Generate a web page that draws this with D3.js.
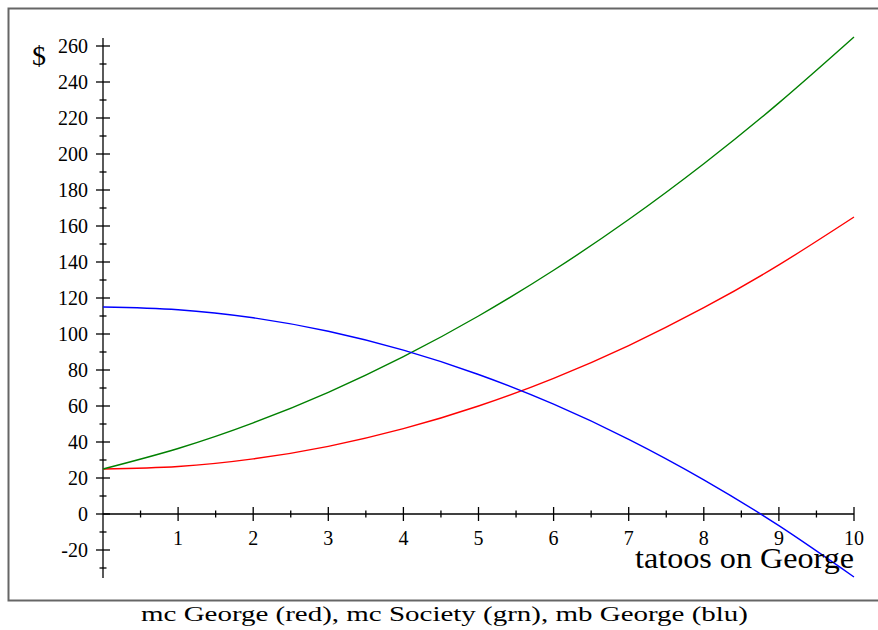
<!DOCTYPE html>
<html>
<head>
<meta charset="utf-8">
<script src="https://cdn.jsdelivr.net/npm/d3@7"></script>
<style>
  body { margin: 0; background: #fff; }
  #chart { width: 878px; height: 630px; }
  text { font-family: "Liberation Serif", "Times New Roman", serif; fill: #000; }
</style>
</head>
<body>
<div id="chart"></div>
<script>
// DATA

const xValues = [0, 1, 2, 3, 4, 5, 6, 7, 8, 9, 10];
const mcGeorge  = [25, 26.4, 30.6, 37.6, 47.4, 60, 75.4, 93.6, 114.6, 138.4, 165];
const mcSociety = [25, 36.4, 50.6, 67.6, 87.4, 110, 135.4, 163.6, 194.6, 228.4, 265];
const mbGeorge  = [115, 113.5, 109, 101.5, 91, 77.5, 61, 41.5, 19, -6.5, -35];

const xTicks = [1, 2, 3, 4, 5, 6, 7, 8, 9, 10];
const yTicks = [-20, 0, 20, 40, 60, 80, 100, 120, 140, 160, 180, 200, 220, 240, 260];

const seriesList = [
    {name: "mc George", values: mcGeorge, color: "#ff0000"},
    {name: "mc Society", values: mcSociety, color: "#008000"},
    {name: "mb George", values: mbGeorge, color: "#0000ff"}
];

// SVG CANVAS

const width = 878;
const height = 630;

const svg = d3.select("#chart")
    .append("svg")
    .attr("width", width)
    .attr("height", height);

// FRAME

svg.append("rect")
    .attr("x", 8.5)
    .attr("y", 8.5)
    .attr("width", 880)
    .attr("height", 592)
    .attr("fill", "none")
    .attr("stroke", "#666")
    .attr("stroke-width", 2);

// SCALES

const xScale = d3.scaleLinear()
    .domain([0, 10])
    .range([103, 854]);

const yScale = d3.scaleLinear()
    .domain([0, 260])
    .range([514, 46]);

// AXES

const xAxis = svg.append("g")
    .attr("transform", `translate(0,${yScale(0)})`);

xAxis.append("line")
    .attr("x1", xScale(0)).attr("x2", xScale(10))
    .attr("stroke", "#000").attr("stroke-width", 1.3);

xAxis.selectAll(".minor")
    .data(d3.range(0.5, 10, 1))
    .enter()
    .append("line")
        .attr("x1", d => xScale(d)).attr("x2", d => xScale(d))
        .attr("y1", -3.5).attr("y2", 3.5)
        .attr("stroke", "#000").attr("stroke-width", 1.3);

xAxis.selectAll(".major")
    .data(xTicks)
    .enter()
    .append("line")
        .attr("x1", d => xScale(d)).attr("x2", d => xScale(d))
        .attr("y1", -7).attr("y2", 7)
        .attr("stroke", "#000").attr("stroke-width", 1.3);

xAxis.selectAll(".label")
    .data(xTicks)
    .enter()
    .append("text")
        .attr("x", d => xScale(d))
        .attr("y", 31)
        .attr("text-anchor", "middle")
        .style("font-size", "20px")
        .text(d => d);

const yAxis = svg.append("g")
    .attr("transform", `translate(${xScale(0)},0)`);

yAxis.append("line")
    .attr("y1", yScale(264.5)).attr("y2", yScale(-35.5))
    .attr("stroke", "#000").attr("stroke-width", 1.3);

yAxis.selectAll(".minor")
    .data(d3.range(-30, 260, 20))
    .enter()
    .append("line")
        .attr("y1", d => yScale(d)).attr("y2", d => yScale(d))
        .attr("x1", -3.5).attr("x2", 3.5)
        .attr("stroke", "#000").attr("stroke-width", 1.3);

yAxis.selectAll(".major")
    .data(yTicks)
    .enter()
    .append("line")
        .attr("y1", d => yScale(d)).attr("y2", d => yScale(d))
        .attr("x1", -7).attr("x2", 7)
        .attr("stroke", "#000").attr("stroke-width", 1.3);

yAxis.selectAll(".label")
    .data(yTicks)
    .enter()
    .append("text")
        .attr("x", -15)
        .attr("y", d => yScale(d) + 7)
        .attr("text-anchor", "end")
        .style("font-size", "20px")
        .text(d => d);

// LINES

const line = d3.line()
    .x((d, i) => xScale(xValues[i]))
    .y(d => yScale(d))
    .curve(d3.curveNatural);

svg.selectAll(".series")
    .data(seriesList)
    .enter()
    .append("path")
        .attr("d", d => line(d.values))
        .attr("fill", "none")
        .attr("stroke", d => d.color)
        .attr("stroke-width", 1.4);

// LABELS

svg.append("text")
    .attr("x", 32)
    .attr("y", 65)
    .style("font-size", "28px")
    .text("$");

svg.append("text")
    .attr("x", 635)
    .attr("y", 568)
    .style("font-size", "30px")
    .attr("textLength", 219)
    .attr("lengthAdjust", "spacingAndGlyphs")
    .text("tatoos on George");

svg.append("text")
    .attr("x", 141)
    .attr("y", 621)
    .style("font-size", "22px")
    .attr("textLength", 607)
    .attr("lengthAdjust", "spacingAndGlyphs")
    .text("mc George (red), mc Society (grn), mb George (blu)");
</script>
</body>
</html>
